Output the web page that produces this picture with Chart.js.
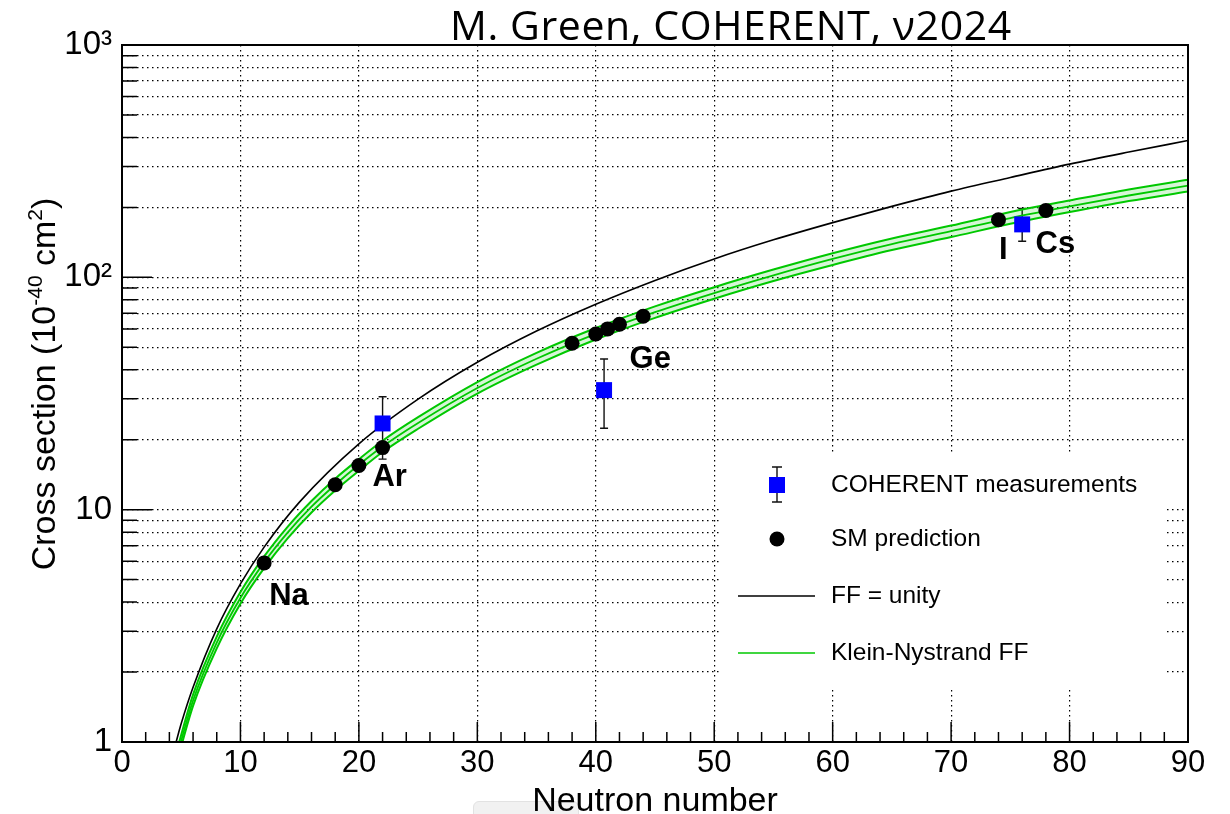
<!DOCTYPE html>
<html>
<head>
<meta charset="utf-8">
<title>Cross section vs neutron number</title>
<script src="https://cdn.jsdelivr.net/npm/chart.js@4.4.1/dist/chart.umd.min.js"></script>
<style>
  html, body { margin: 0; padding: 0; background: #fff; }
  #wrap { position: relative; width: 1230px; height: 814px; overflow: hidden; }
  #shade { position: absolute; left: 473px; top: 801px; width: 104px; height: 24px; background: #f1f1f1; border: 1px solid #e2e2e2; border-radius: 6px; }
  #cv { position: absolute; left: 0; top: 0; }
  #title { position: absolute; left: 450px; top: 4px; font-family: 'Open Sans', sans-serif; font-size: 41px; line-height: 41px; letter-spacing: 0.6px; white-space: nowrap; color: #000; }
</style>
</head>
<body>
<div id="wrap">
  <div id="shade"></div>
  <canvas id="cv" width="1230" height="814"></canvas>
  <div id="title">M. Green, COHERENT, ν2024</div>
</div>
<script>
// FF = unity curve
const ffN = [4.5, 5, 6, 8, 10, 12, 15, 20, 25, 30, 35, 40, 45, 50, 55, 60, 65, 70, 75, 80, 85, 90];
const ffUnity = [0.97, 1.2, 1.72, 3.07, 4.79, 6.9, 10.8, 19.2, 29.9, 43.1, 58.7, 76.6, 97, 120, 145, 172, 202, 235, 269, 307, 346, 388];

// Klein-Nystrand FF band (centre, upper and lower edge)
const knN = [4.6, 6, 8, 10, 12, 14, 16, 18, 20, 22, 25, 30, 35, 40, 45, 50, 55, 60, 65, 70, 75, 80, 85, 90];
const knCentre = [0.86, 1.51, 2.68, 4.17, 5.93, 7.98, 10.3, 12.8, 15.6, 18.7, 23.6, 33.4, 44.6, 57.1, 70.8, 85.6, 102, 120, 139, 158, 180, 202, 225, 248];
const knHigh = [0.91, 1.60, 2.84, 4.42, 6.29, 8.46, 10.9, 13.6, 16.5, 19.8, 25.0, 35.4, 47.3, 60.5, 75.0, 90.7, 108, 127, 147, 167, 191, 214, 239, 263];
const knLow = [0.81, 1.43, 2.53, 3.94, 5.60, 7.54, 9.73, 12.1, 14.7, 17.7, 22.3, 31.6, 42.1, 54.0, 66.9, 80.9, 96.4, 113, 131, 149, 170, 191, 213, 234];

// SM prediction points
const smN = [12, 18, 20, 22, 38, 40, 41, 42, 44, 74, 78];
const smXS = [5.9, 12.8, 15.5, 18.5, 52, 57, 60, 62.8, 68, 177, 194];

// COHERENT measurements with error bars
const cohN = [22, 40.7, 76];
const cohXS = [23.5, 32.7, 169];
const cohLow = [16.5, 22.4, 143];
const cohHigh = [30.6, 44.5, 198];

// nucleus labels
const nucName = ['Na', 'Ar', 'Ge', 'I', 'Cs'];
const nucN = [14.1, 22.6, 44.6, 74.4, 78.8];
const nucXS = [4.25, 13.7, 44.1, 131, 139];

// axis ticks and titles
const yTicks = [1, 2, 3, 4, 5, 6, 7, 8, 9, 10, 20, 30, 40, 50, 60, 70, 80, 90,
  100, 200, 300, 400, 500, 600, 700, 800, 900, 1000];
const yMajor = { 1: '1', 10: '10', 100: '10²', 1000: '10³' };
const xMinorStep = 2;
const xTitle = 'Neutron number';
const yTitle = [['Cross section (10', false], ['-40', true], [' cm', false], ['2', true], [')', false]];

const GREEN = '#00c800';
const FONT = "'Liberation Sans', Arial, sans-serif";
const pts = (xs, ys) => xs.map((v, i) => ({ x: v, y: ys[i] }));

Chart.defaults.font.family = FONT;
Chart.defaults.color = '#000';

const decor = {
  id: 'decor',
  beforeDatasetsDraw(chart) {
    const { ctx, scales: { x, y } } = chart;
    ctx.save();
    ctx.strokeStyle = '#111';
    ctx.lineWidth = 1.4;
    cohN.forEach((n, i) => {
      const px = x.getPixelForValue(n);
      const top = y.getPixelForValue(cohHigh[i]);
      const bot = y.getPixelForValue(cohLow[i]);
      ctx.beginPath();
      ctx.moveTo(px, top); ctx.lineTo(px, bot);
      ctx.moveTo(px - 4, top); ctx.lineTo(px + 4, top);
      ctx.moveTo(px - 4, bot); ctx.lineTo(px + 4, bot);
      ctx.stroke();
    });
    ctx.restore();
  },
  afterDatasetsDraw(chart) {
    const { ctx, scales: { x, y } } = chart;
    ctx.save();
    // nucleus names
    ctx.fillStyle = '#000';
    ctx.font = 'bold 31px ' + FONT;
    ctx.textAlign = 'center';
    ctx.textBaseline = 'middle';
    nucName.forEach((name, i) => {
      ctx.fillText(name, x.getPixelForValue(nucN[i]), y.getPixelForValue(nucXS[i]));
    });

    // legend box
    ctx.fillStyle = '#fff';
    ctx.fillRect(722, 452, 443, 238);
    const ds = chart.data.datasets;
    const rows = [485, 539, 596, 653];
    const symX = 777, textX = 831;

    ctx.strokeStyle = '#111'; ctx.lineWidth = 1.4;
    ctx.beginPath();
    ctx.moveTo(symX, rows[0] - 18); ctx.lineTo(symX, rows[0] + 17);
    ctx.moveTo(symX - 5, rows[0] - 18); ctx.lineTo(symX + 5, rows[0] - 18);
    ctx.moveTo(symX - 5, rows[0] + 17); ctx.lineTo(symX + 5, rows[0] + 17);
    ctx.stroke();
    ctx.fillStyle = '#0000ff';
    ctx.fillRect(symX - 8, rows[0] - 8, 16, 16);
    ctx.fillStyle = '#000';
    ctx.beginPath(); ctx.arc(symX, rows[1], 7.5, 0, Math.PI * 2); ctx.fill();
    ctx.lineWidth = 1.6;
    ctx.strokeStyle = '#000';
    ctx.beginPath(); ctx.moveTo(738, rows[2]); ctx.lineTo(815, rows[2]); ctx.stroke();
    ctx.strokeStyle = GREEN;
    ctx.beginPath(); ctx.moveTo(738, rows[3]); ctx.lineTo(815, rows[3]); ctx.stroke();

    ctx.fillStyle = '#000';
    ctx.font = '24.5px ' + FONT;
    ctx.textAlign = 'left';
    ctx.fillText(ds[5].label, textX, rows[0]);
    ctx.fillText(ds[4].label, textX, rows[1]);
    ctx.fillText(ds[0].label, textX, rows[2]);
    ctx.fillText(ds[3].label, textX, rows[3]);
    ctx.restore();
  },
  afterDraw(chart) {
    const { ctx, chartArea: { left, right, top, bottom }, scales: { x, y } } = chart;
    ctx.save();
    // inward ticks
    ctx.strokeStyle = '#000';
    ctx.lineWidth = 1.5;
    ctx.beginPath();
    for (let v = x.min; v <= x.max; v += xMinorStep) {
      const px = x.getPixelForValue(v);
      const len = v % 10 === 0 ? 20 : 10;
      ctx.moveTo(px, bottom); ctx.lineTo(px, bottom - len);
    }
    yTicks.forEach(v => {
      const py = y.getPixelForValue(v);
      const len = yMajor[v] ? 30 : 15;
      ctx.moveTo(left, py); ctx.lineTo(left + len, py);
    });
    ctx.stroke();
    ctx.lineWidth = 2;
    ctx.strokeRect(left, top, right - left, bottom - top);

    // axis titles
    ctx.fillStyle = '#000';
    ctx.textBaseline = 'alphabetic';
    ctx.font = '34px ' + FONT;
    ctx.textAlign = 'center';
    ctx.fillText(xTitle, (left + right) / 2, 811);

    ctx.translate(55, 384);
    ctx.rotate(-Math.PI / 2);
    ctx.textAlign = 'left';
    const big = '34px ' + FONT, small = '21px ' + FONT;
    let total = 0;
    yTitle.forEach(([t, sup]) => { ctx.font = sup ? small : big; total += ctx.measureText(t).width; });
    let cx = -total / 2;
    yTitle.forEach(([t, sup]) => {
      ctx.font = sup ? small : big;
      ctx.fillText(t, cx, sup ? -13 : 0);
      cx += ctx.measureText(t).width;
    });
    ctx.restore();
  }
};

new Chart(document.getElementById('cv'), {
  type: 'line',
  data: {
    datasets: [
      { label: 'FF = unity', data: pts(ffN, ffUnity), borderColor: '#000', borderWidth: 1.6,
        pointRadius: 0, cubicInterpolationMode: 'monotone', fill: false, order: 5 },
      { label: 'KN high', data: pts(knN, knHigh), borderColor: GREEN, borderWidth: 2,
        pointRadius: 0, cubicInterpolationMode: 'monotone', fill: false, order: 4 },
      { label: 'KN low', data: pts(knN, knLow), borderColor: GREEN, borderWidth: 2,
        pointRadius: 0, cubicInterpolationMode: 'monotone', fill: '-1',
        backgroundColor: 'rgba(0, 200, 0, 0.16)', order: 3 },
      { label: 'Klein-Nystrand FF', data: pts(knN, knCentre), borderColor: GREEN, borderWidth: 1.8,
        pointRadius: 0, cubicInterpolationMode: 'monotone', fill: false, order: 2 },
      { label: 'SM prediction', data: pts(smN, smXS), showLine: false, pointStyle: 'circle',
        pointRadius: 7.5, pointBackgroundColor: '#000', pointBorderWidth: 0, order: 1 },
      { label: 'COHERENT measurements', data: pts(cohN, cohXS), showLine: false, pointStyle: 'rect',
        pointRadius: 11.3, pointBackgroundColor: '#0000ff', pointBorderWidth: 0, order: 0 }
    ]
  },
  options: {
    responsive: false,
    animation: false,
    layout: { padding: { top: 45, right: 42, left: 0, bottom: 0 } },
    plugins: { legend: { display: false }, tooltip: { enabled: false } },
    scales: {
      x: {
        type: 'linear', min: 0, max: 90,
        afterFit: s => { s.height = 72; },
        ticks: { stepSize: 10, maxRotation: 0, padding: 3, font: { size: 31 } },
        grid: { color: '#000', lineWidth: 1.2, drawTicks: false },
        border: { display: false, dash: [1.5, 3.5] }
      },
      y: {
        type: 'logarithmic', min: 1, max: 1000,
        afterFit: s => { s.width = 122; },
        afterBuildTicks: s => { s.ticks = yTicks.map(v => ({ value: v })); },
        ticks: { autoSkip: false, padding: 10, font: { size: 33 }, callback: v => yMajor[v] || '' },
        grid: { color: '#000', lineWidth: 1.2, drawTicks: false },
        border: { display: false, dash: [1.5, 3.5] }
      }
    }
  },
  plugins: [decor]
});
</script>
</body>
</html>
